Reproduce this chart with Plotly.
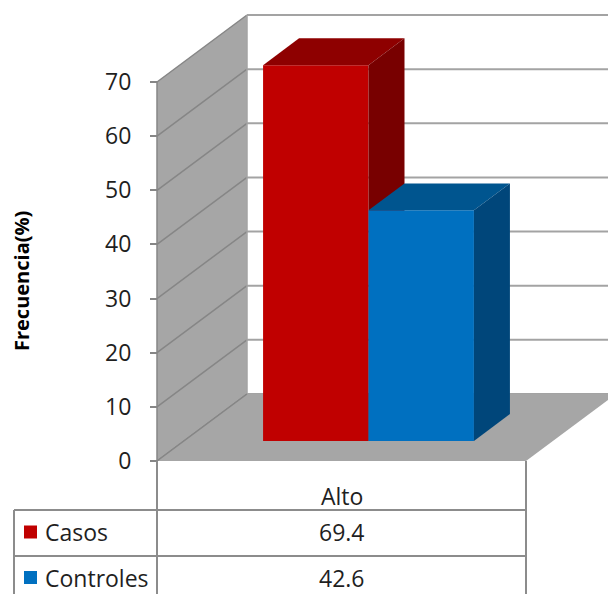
import plotly.graph_objects as go

# ---- data ----
categories = ["Alto"]
series_names = ["Casos", "Controles"]
casos = [69.4]
controles = [42.6]
y_ticks = [0, 10, 20, 30, 40, 50, 60, 70]
y_title = "Frecuencia(%)"

# ---- styling ----
FONT = "Open Sans"
TXT = "#1F1F1F"
front_colors = ["#C00000", "#0070C0"]
top_colors = ["#8E0000", "#00558F"]
side_colors = ["#780000", "#00467A"]
WALL_GRAY = "#A6A6A6"
GRID_BACK = "#A3A3A3"
GRID_SIDE = "#868686"
LINE = "#8C8C8C"

W, H = 608, 594
# axis geometry (pixel layout of the 3D box)
X_LEFT, BAND = 157.0, 369.0           # front-left corner and category band width in px
Y_ZERO, Y_TOP = 461.0, 82.0           # px of value 0 and value 70 on the front plane
S = (Y_ZERO - Y_TOP) / 70.0           # px per value unit
DX = 90.0 / BAND                      # depth shift along x (category units)
DV = 67.0 / S                         # depth shift along y (value units)
D0, D1 = 0.3, 0.7                     # bar depth span inside the box
GAP = 1.5                             # gap width relative to one bar

x_range = [-X_LEFT / BAND - 0.5, (W - X_LEFT) / BAND - 0.5]
y_range = [(Y_ZERO - H) / S, Y_ZERO / S]


def proj(u, v, d):
    """3D (category, value, depth) -> 2D axis coordinates."""
    return u + d * DX, v + d * DV


def poly(points, color, line_color=None, width=0):
    xs, ys = zip(*[proj(*p) for p in points])
    return go.Scatter(
        x=list(xs) + [xs[0]], y=list(ys) + [ys[0]], mode="lines",
        fill="toself", fillcolor=color,
        line=dict(color=line_color or color, width=width),
        hoverinfo="skip", showlegend=False)


def seg(p, q, color, width):
    (x0, y0), (x1, y1) = proj(*p), proj(*q)
    return go.Scatter(x=[x0, x1], y=[y0, y1], mode="lines",
                      line=dict(color=color, width=width),
                      hoverinfo="skip", showlegend=False)


fig = go.Figure()
vmax = y_ticks[-1]
U0, U1 = -0.5, 0.5

# side wall (gray)
fig.add_trace(poly([(U0, 0, 0), (U0, vmax, 0), (U0, vmax, 1), (U0, 0, 1)], WALL_GRAY))
# back wall gridlines
for t in y_ticks:
    fig.add_trace(seg((U0, t, 1), (U1 + 0.1, t, 1), GRID_BACK, 2))
# side wall gridlines
for t in y_ticks:
    fig.add_trace(seg((U0, t, 0), (U0, t, 1), GRID_SIDE, 1.5))
# back wall corner edge
fig.add_trace(seg((U0, 0, 1), (U0, vmax, 1), GRID_BACK, 1.5))
# floor
fig.add_trace(poly([(U0, 0, 0), (U1, 0, 0), (U1, 0, 1), (U0, 0, 1)], WALL_GRAY))
fig.add_trace(seg((U0, 0, 0), (U0, 0, 1), GRID_SIDE, 1.5))

# bars
values = [casos, controles]
n = len(values)
bw = 1.0 / (n + GAP)
for ci, _ in enumerate(categories):
    start = ci - 0.5 + GAP * bw / 2
    for si, vals in enumerate(values):
        v = vals[ci]
        L, R = start + si * bw, start + (si + 1) * bw
        fig.add_trace(poly([(L, 0, D0), (R, 0, D0), (R, v, D0), (L, v, D0)], front_colors[si]))
        fig.add_trace(poly([(L, v, D0), (R, v, D0), (R, v, D1), (L, v, D1)], top_colors[si]))
        fig.add_trace(poly([(R, 0, D0), (R, 0, D1), (R, v, D1), (R, v, D0)], side_colors[si]))

# front axis line
fig.add_trace(seg((U0, 0, 0), (U0, vmax, 0), GRID_SIDE, 1.5))


# ---- data table below the chart ----
def px(x):
    return x / W


def py(y):
    return 1 - y / H


X_RIGHT = X_LEFT + BAND
X_TABLE = 14
row_edges = [Y_ZERO, 510, 556, 601]
shapes = []
lc = dict(color=LINE, width=2)
shapes.append(dict(type="line", xref="paper", yref="paper", x0=px(X_LEFT), x1=px(X_LEFT),
                   y0=py(Y_ZERO), y1=py(H + 5), line=lc))
shapes.append(dict(type="line", xref="paper", yref="paper", x0=px(X_RIGHT), x1=px(X_RIGHT),
                   y0=py(Y_ZERO), y1=py(H + 5), line=lc))
shapes.append(dict(type="line", xref="paper", yref="paper", x0=px(X_TABLE), x1=px(X_TABLE),
                   y0=py(row_edges[1]), y1=py(H + 5), line=lc))
for yy in row_edges[1:3]:
    shapes.append(dict(type="line", xref="paper", yref="paper", x0=px(X_TABLE), x1=px(X_RIGHT),
                       y0=py(yy), y1=py(yy), line=lc))

TABLE_FONT = dict(family=FONT, size=23, color=TXT)
annotations = []
mid_x = px(X_LEFT + BAND / 2)
for ci, cat in enumerate(categories):
    annotations.append(dict(x=mid_x, y=py(496), xref="paper", yref="paper",
                            xanchor="center", yanchor="middle", text=cat, showarrow=False,
                            font=TABLE_FONT))
for si, (name, vals) in enumerate(zip(series_names, values)):
    yc_px = (row_edges[si + 1] + row_edges[si + 2]) / 2 - 1
    yc = py(yc_px)
    annotations.append(dict(x=mid_x, y=yc, xref="paper", yref="paper",
                            xanchor="center", yanchor="middle",
                            text=f"{vals[0]:.1f}", showarrow=False, font=TABLE_FONT))
    annotations.append(dict(x=px(43), y=yc, xref="paper", yref="paper",
                            xanchor="left", yanchor="middle",
                            text=name, showarrow=False, font=TABLE_FONT))
    shapes.append(dict(type="rect", xref="paper", yref="paper",
                       x0=px(24), x1=px(37), y0=py(yc_px + 6.5), y1=py(yc_px - 6.5),
                       fillcolor=front_colors[si], line=dict(width=0)))

annotations.append(dict(x=px(21), y=py(281), xref="paper", yref="paper",
                        xanchor="center", yanchor="middle", text=f"<b>{y_title}</b>",
                        textangle=-90, showarrow=False,
                        font=dict(family=FONT, size=20, color="#000000")))

fig.update_layout(
    width=W, height=H, margin=dict(l=0, r=0, t=0, b=0),
    paper_bgcolor="white", plot_bgcolor="white", showlegend=False,
    xaxis=dict(range=x_range, visible=False, fixedrange=True),
    yaxis=dict(range=y_range, anchor="free", position=X_LEFT / W, side="left",
               tickvals=y_ticks, ticks="outside", ticklen=7, tickwidth=1.5, tickcolor=GRID_SIDE,
               showgrid=False, zeroline=False, showline=False, ticklabelstandoff=14,
               tickfont=dict(family=FONT, size=23, color=TXT), fixedrange=True),
    shapes=shapes, annotations=annotations,
)

fig.write_html("out.html")
